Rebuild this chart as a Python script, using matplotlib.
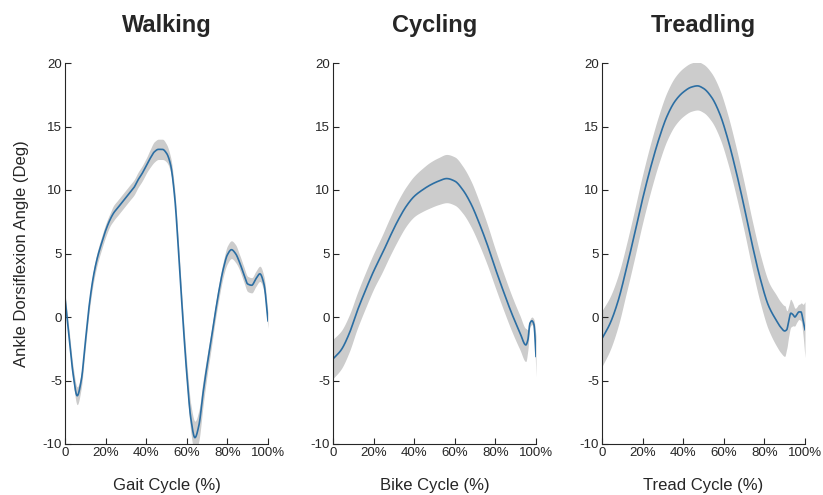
import numpy as np
import matplotlib
matplotlib.use("Agg")
import matplotlib.pyplot as plt

plt.rcParams['font.family'] = ['Liberation Sans', 'DejaVu Sans']
plt.rcParams['axes.unicode_minus'] = False

# ---- Walking ----
walk_x = [0, 2, 4, 6, 8, 10, 12, 14, 16, 18, 20, 22, 24, 26, 28, 30, 32, 34, 36, 38, 40,
          42, 44, 46, 48, 50, 52, 54, 56, 58, 60, 62, 64, 66, 68, 70, 72, 74, 76, 78, 80,
          82, 84, 86, 88, 90, 92, 94, 96, 98, 100]
walk_mean = [1.5, -1.5, -4.5, -6.2, -5.0, -2.0, 1.0, 3.2, 4.7, 5.8, 6.8, 7.6, 8.2, 8.6, 9.0,
             9.4, 9.8, 10.2, 10.8, 11.3, 11.9, 12.5, 13.0, 13.2, 13.2, 12.9, 12.0, 9.5, 5.0,
             0.0, -4.5, -8.0, -9.5, -8.5, -6.0, -3.8, -1.8, 0.3, 2.2, 3.8, 4.9, 5.3, 5.0,
             4.3, 3.4, 2.6, 2.5, 3.0, 3.4, 2.6, -0.3]
walk_sd = [0.4, 0.5, 0.6, 0.7, 0.6, 0.5, 0.5, 0.5, 0.5, 0.5, 0.5, 0.5, 0.6, 0.6, 0.6,
           0.6, 0.6, 0.6, 0.6, 0.6, 0.6, 0.7, 0.8, 0.8, 0.8, 0.7, 0.6, 0.6, 0.6,
           0.7, 0.9, 1.1, 1.3, 1.2, 1.0, 0.8, 0.7, 0.6, 0.6, 0.6, 0.7, 0.7, 0.7,
           0.6, 0.6, 0.6, 0.6, 0.6, 0.6, 0.6, 0.6]

# ---- Cycling ----
cyc_x = [0, 4, 8, 12, 16, 20, 24, 28, 32, 36, 40, 44, 48, 52, 56, 60, 64, 68, 72, 76, 80,
         84, 88, 92, 95, 96, 97, 98, 99, 100]
cyc_mean = [-3.3, -2.6, -1.3, 0.5, 2.1, 3.6, 4.9, 6.3, 7.6, 8.7, 9.5, 10.0, 10.4, 10.7, 10.9,
            10.7, 10.0, 8.9, 7.4, 5.7, 3.8, 2.0, 0.3, -1.2, -2.2, -1.8, -0.5, -0.3, -0.6, -3.1]
cyc_sd = [1.55, 1.5, 1.45, 1.4, 1.4, 1.4, 1.45, 1.5, 1.55, 1.55, 1.6, 1.7, 1.8, 1.85, 1.9,
          1.9, 1.85, 1.8, 1.7, 1.6, 1.5, 1.45, 1.4, 1.35, 1.3, 0.8, 0.3, 0.3, 0.4, 1.6]

# ---- Treadling ----
trd_x = [0, 4, 8, 12, 16, 20, 24, 28, 32, 36, 40, 44, 47, 50, 54, 58, 62, 66, 70, 74, 78,
         82, 86, 88, 90, 91, 92, 93, 94, 95, 96, 97, 98, 99, 100]
trd_mean = [-1.7, -0.5, 1.3, 3.8, 6.5, 9.3, 11.8, 14.0, 15.8, 17.0, 17.7, 18.1, 18.2, 18.0,
            17.3, 16.0, 14.0, 11.5, 8.7, 5.7, 3.0, 0.9, -0.3, -0.8, -1.1, -1.0, -0.3, 0.3,
            0.2, 0.0, 0.2, 0.4, 0.4, -0.2, -1.0]
trd_sd = [2.2, 2.1, 2.0, 1.9, 1.9, 1.9, 1.9, 1.9, 1.9, 1.9, 1.9, 1.9, 1.9, 1.9,
          1.9, 1.9, 1.9, 1.9, 1.9, 1.9, 1.9, 1.9, 2.0, 2.0, 2.0, 1.5, 1.2, 1.1,
          0.9, 0.7, 0.6, 0.6, 0.7, 1.2, 2.2]

titles = ["Walking", "Cycling", "Treadling"]
xlabels = ["Gait Cycle (%)", "Bike Cycle (%)", "Tread Cycle (%)"]
ylabel = "Ankle Dorsiflexion Angle (Deg)"
xtick_vals = [0, 20, 40, 60, 80, 100]
xtick_labels = ["0", "20%", "40%", "60%", "80%", "100%"]
ytick_vals = [-10, -5, 0, 5, 10, 15, 20]

datasets = [(walk_x, walk_mean, walk_sd), (cyc_x, cyc_mean, cyc_sd), (trd_x, trd_mean, trd_sd)]


def pchip(x, y, xf):
    """Monotone piecewise cubic Hermite interpolation (smooth curve through points)."""
    x = np.asarray(x, float)
    y = np.asarray(y, float)
    h = np.diff(x)
    d = np.diff(y) / h
    n = len(x)
    m = np.zeros(n)
    for k in range(1, n - 1):
        if d[k - 1] * d[k] <= 0:
            m[k] = 0.0
        else:
            w1 = 2 * h[k] + h[k - 1]
            w2 = h[k] + 2 * h[k - 1]
            m[k] = (w1 + w2) / (w1 / d[k - 1] + w2 / d[k])
    m[0] = d[0]
    m[-1] = d[-1]
    idx = np.clip(np.searchsorted(x, xf) - 1, 0, n - 2)
    t = (xf - x[idx]) / h[idx]
    h00 = 2 * t**3 - 3 * t**2 + 1
    h10 = t**3 - 2 * t**2 + t
    h01 = -2 * t**3 + 3 * t**2
    h11 = t**3 - t**2
    return (h00 * y[idx] + h10 * h[idx] * m[idx] + h01 * y[idx + 1]
            + h11 * h[idx] * m[idx + 1])


W, H = 823, 495
fig = plt.figure(figsize=(W / 100, H / 100), dpi=100)

lefts = [65, 333, 602]
ax_w = 203
ax_top, ax_bot = 63, 444

line_color = '#2b6ea3'
band_color = '#cccccc'
txt = '#262626'

for i, (xs, m, s) in enumerate(datasets):
    ax = fig.add_axes([lefts[i] / W, 1 - ax_bot / H, ax_w / W, (ax_bot - ax_top) / H])
    xf = np.linspace(0, 100, 801)
    mf = pchip(xs, m, xf)
    sf = pchip(xs, s, xf)
    ax.fill_between(xf, mf - sf, mf + sf, color=band_color, linewidth=0)
    ax.plot(xf, mf, color=line_color, linewidth=1.2)
    ax.set_xlim(0, 100)
    ax.set_ylim(-10, 20)
    ax.set_xticks(xtick_vals)
    ax.set_xticklabels(xtick_labels)
    ax.set_yticks(ytick_vals)
    ax.spines['top'].set_visible(False)
    ax.spines['right'].set_visible(False)
    for sp in ['left', 'bottom']:
        ax.spines[sp].set_color(txt)
        ax.spines[sp].set_linewidth(0.8)
    ax.tick_params(direction='in', length=4, width=0.8, labelsize=9.5,
                   colors=txt, pad=2)
    ax.set_title(titles[i], fontsize=17, fontweight='bold', color=txt, pad=22)
    ax.set_xlabel(xlabels[i], fontsize=12, color=txt, labelpad=14)
    if i == 0:
        ax.set_ylabel(ylabel, fontsize=12, color=txt, labelpad=10)

fig.savefig("out.png", dpi=100)
